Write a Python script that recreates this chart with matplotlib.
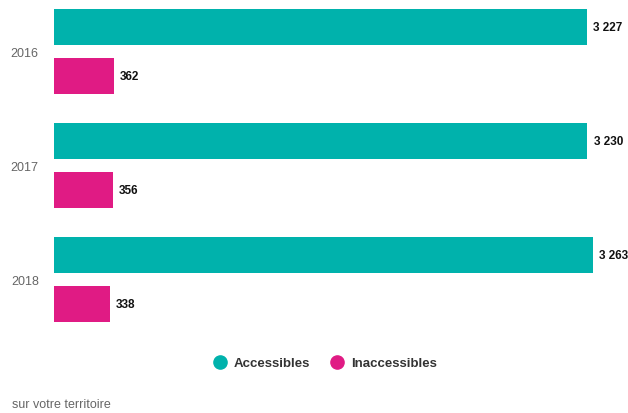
import matplotlib
matplotlib.use("Agg")
import matplotlib.pyplot as plt
from matplotlib.lines import Line2D
import numpy as np

years = ["2016", "2017", "2018"]
accessibles = [3227, 3230, 3263]
inaccessibles = [362, 356, 338]
series_names = ["Accessibles", "Inaccessibles"]
colors = ["#00B2AC", "#E01B84"]

plt.rcParams['font.family'] = ['Liberation Sans', 'DejaVu Sans']

fig = plt.figure(figsize=(6.28, 4.14), dpi=100)
W, H = 628, 414
left_px, right_px, top_px, bot_px = 54, 620, 0, 340
ax = fig.add_axes([left_px / W, 1 - bot_px / H, (right_px - left_px) / W, (bot_px - top_px) / H])

y = np.arange(len(years))
off = 0.215
h = 0.316
ax.barh(y - off, accessibles, height=h, color=colors[0])
ax.barh(y + off, inaccessibles, height=h, color=colors[1])

def fmt(v):
    return f"{v:,}".replace(",", " ")

for i in range(len(years)):
    ax.text(accessibles[i] + 38, y[i] - off, fmt(accessibles[i]), va="center", ha="left",
            fontsize=8.5, fontweight="bold", color="#111111")
    ax.text(inaccessibles[i] + 38, y[i] + off, fmt(inaccessibles[i]), va="center", ha="left",
            fontsize=8.5, fontweight="bold", color="#111111")

scale = (587 - 54) / 3227
ax.set_xlim(0, (right_px - left_px) / scale)
ax.set_ylim((bot_px - 52.5) / 114, (top_px - 52.5) / 114)
ax.set_yticks(y)
ax.set_yticklabels(years, fontsize=9, color="#666666")
ax.tick_params(axis="y", length=0, pad=11)
ax.set_xticks([])
for s in ax.spines.values():
    s.set_visible(False)

handles = [Line2D([0], [0], marker="o", linestyle="", markersize=9.5, markerfacecolor=c,
                  markeredgecolor=c) for c in colors]
leg = fig.legend(handles, series_names, loc="center", bbox_to_anchor=(322 / W, 1 - 364 / H),
                 ncol=2, frameon=False, handletextpad=0.05, columnspacing=1.05,
                 prop={"weight": "bold", "size": 9.5})
for t in leg.get_texts():
    t.set_color("#333333")

fig.text(12 / W, 1 - 405 / H, "sur votre territoire", fontsize=9, color="#666666",
         va="center", ha="left")

fig.savefig("out.png", dpi=100)
